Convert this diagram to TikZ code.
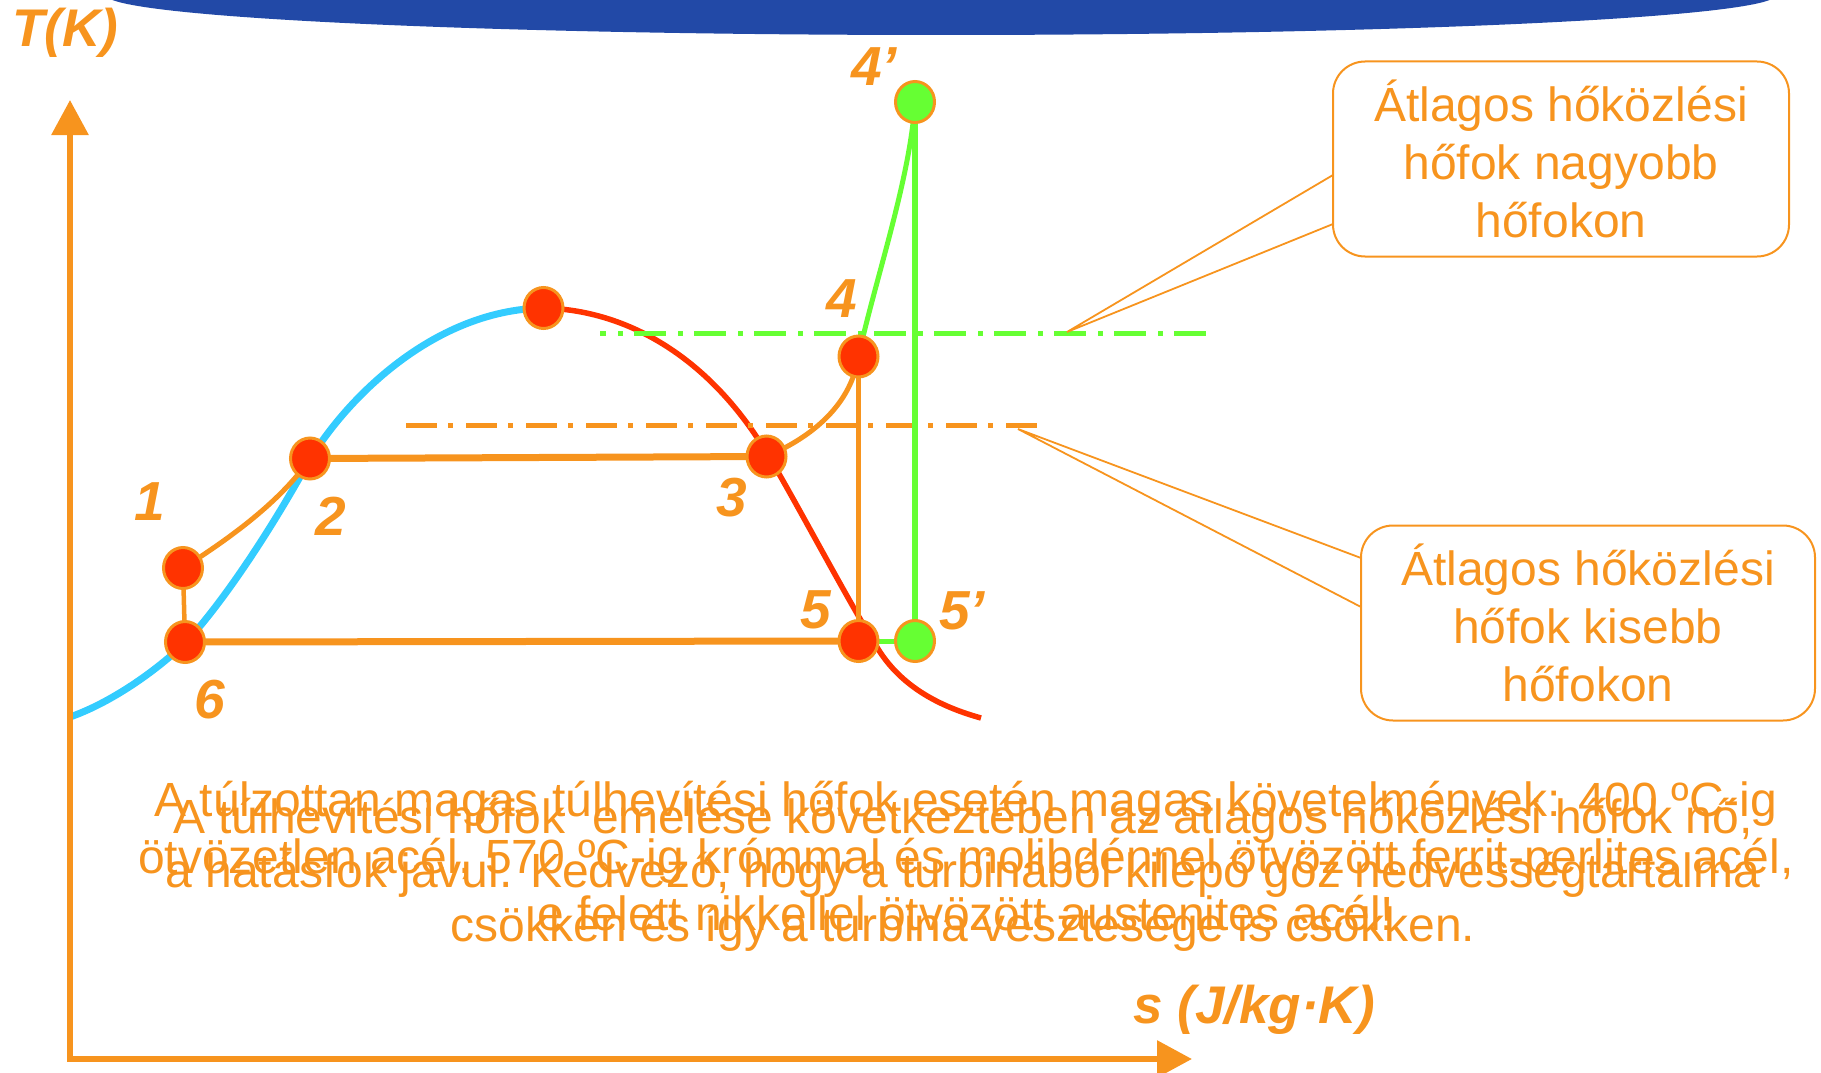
\documentclass[tikz,border=0pt]{standalone}
\usepackage{fontspec}
\setmainfont{Liberation Sans}
\usetikzlibrary{arrows.meta,shapes.geometric}
\definecolor{org}{HTML}{F7941E}
\definecolor{ptred}{HTML}{FF3300}
\definecolor{cblue}{HTML}{33CCFF}
\definecolor{cgreen}{HTML}{66FF33}
\definecolor{banner}{HTML}{2249A7}
\pgfdeclarelayer{background}
\pgfsetlayers{background,main}
\begin{document}
\begin{tikzpicture}[x=1pt,y=-1pt,
  pt/.style={ellipse, draw=org, line width=3pt, fill=ptred, minimum width=39pt, minimum height=41pt, inner sep=0pt},
  gpt/.style={pt, fill=cgreen},
  lbl/.style={text=org, font=\fontsize{55}{60}\selectfont\bfseries\itshape, inner sep=0pt},
  axlbl/.style={text=org, font=\fontsize{53}{60}\selectfont\bfseries\itshape, inner sep=0pt},
  callbox/.style={draw=org, line width=2pt, rounded corners=32pt, text=org, align=center, inner sep=0pt, font=\fontsize{48}{58}\selectfont},
  calline/.style={draw=org, line width=1.8pt},
  para/.style={text=org, align=center, inner sep=0pt},
  thick line/.style={draw=org, line width=7pt},
  thin line/.style={draw=org, line width=5pt},
]
\useasboundingbox (0,0) rectangle (1821,1073);
% banner
\fill[banner] (941,-5) ellipse [x radius=835, y radius=40];

% axes
\coordinate (o) at (70,1059);
\coordinate (ytip) at (70,100);
\coordinate (xtip) at (1192,1059);
\draw[org, line width=6pt, {Triangle[length=35pt,width=36pt]}-{Triangle[length=35pt,width=36pt]}] (ytip) -- (o) -- (xtip);
\node[axlbl] (tk) at (65,33) {T(K)};
\node[axlbl] (sk) at (1254,1010) {s (J/kg·K)};

% points
\node[pt] (c) at (543.5,308) {};
\node[pt] (p1) at (183,568) {};
\node[pt] (p2) at (310,458.5) {};
\node[pt] (p3) at (766.5,456.5) {};
\node[pt] (p4) at (858.5,356.5) {};
\node[pt] (p5) at (858.5,641) {};
\node[pt] (p6) at (185,642) {};
\node[gpt] (p4p) at (915,102) {};
\node[gpt] (p5p) at (915,641) {};

\begin{pgfonlayer}{background}
% saturation curves
\draw[cblue, line width=7pt] (70,717) .. controls (110,703) and (155,672) .. (185,643)
   .. controls (215,612) and (262,545) .. (305,468)
   .. controls (340,405) and (430,310) .. (c.center);
\draw[ptred, line width=5.5pt] (c.center) .. controls (630,310) and (710,360) .. (765,450)
   .. controls (792,494) and (850,605) .. (880,652)
   .. controls (905,690) and (945,708) .. (981,718);

% dash-dot lines
\coordinate (gl0) at (600,333);
\coordinate (gl1) at (606,333);
\coordinate (gl) at (618,333);
\coordinate (gr) at (1208,333);
\coordinate (ol) at (406,425);
\coordinate (or) at (1039,425);
\draw[cgreen, line width=5pt] (gl0) -- (gl1);
\draw[cgreen, line width=5pt, dash pattern=on 5pt off 11pt on 32pt off 12pt] (gl) -- (gr);
\draw[org, line width=5pt, dash pattern=on 31pt off 11pt on 5pt off 13pt] (ol) -- (or);

% cycle lines
\draw[thin line, line width=4.5pt] (p1.center) -- (p6.center);
\draw[thin line] (p1.center) .. controls (232,537) and (282,500) .. (p2.center);
\draw[thick line] (p2.center) -- (p3.center);
\draw[thin line] (p3.center) .. controls (805,440) and (850,410) .. (p4.center);
\draw[thin line, line width=4.5pt] (p4.center) -- (p5.center);
\draw[thick line] (p6.center) -- (p5.center);
\draw[cgreen, line width=5pt] (p5.center) -- (p5p.center);
\draw[cgreen, line width=5pt] (p4.center) .. controls (875,280) and (910,180) .. (p4p.center);
\draw[cgreen, line width=5.5pt] (p4p.center) -- (p5p.center);
\end{pgfonlayer}

% labels
\node[lbl] (l1) at (150,502) {1};
\node[lbl] (l2) at (331,516) {2};
\node[lbl] (l3) at (732,498) {3};
\node[lbl] (l4) at (842,299) {4};
\node[lbl] (l5) at (816,610) {5};
\node[lbl] (l6) at (210,700) {6};
\node[lbl] (l4p) at (874,67) {4’};
\node[lbl] (l5p) at (962,611) {5’};

% callout boxes
\node[callbox, minimum width=456pt, minimum height=195pt] (ubox) at (1561,159) {Átlagos hőközlési\\hőfok nagyobb\\hőfokon};
\node[callbox, minimum width=454pt, minimum height=195pt] (lbox) at (1588,623) {Átlagos hőközlési\\hőfok kisebb\\hőfokon};
\coordinate (uv) at (1067,332);
\coordinate (ua) at (1333,175);
\coordinate (ub) at (1333,224);
\coordinate (lv) at (1018,429);
\coordinate (la) at (1361,558);
\coordinate (lb) at (1361,607);
\draw[calline] (ua) -- (uv) -- (ub);
\draw[calline] (la) -- (lv) -- (lb);

% overlapping paragraphs
\node[para, font=\fontsize{48}{57}\selectfont] (pa) at (966,856) {A túlzottan magas túlhevítési hőfok esetén magas követelmények: 400 ºC-ig\\ötvözetlen acél, 570 ºC-ig krómmal és molibdénnel ötvözött ferrit-perlites acél,\\e felett nikkellel ötvözött austenites acél!};
\node[para, font=\fontsize{48}{54}\selectfont] (pb) at (963,875) {A túlhevítési hőfok\ \ emelése következtében az átlagos hőközlési hőfok nő,\\a hatásfok javul. Kedvező, hogy a turbinából kilépő gőz nedvességtartalma\\csökken és így a turbina vesztesége is csökken.};
\end{tikzpicture}
\end{document}
